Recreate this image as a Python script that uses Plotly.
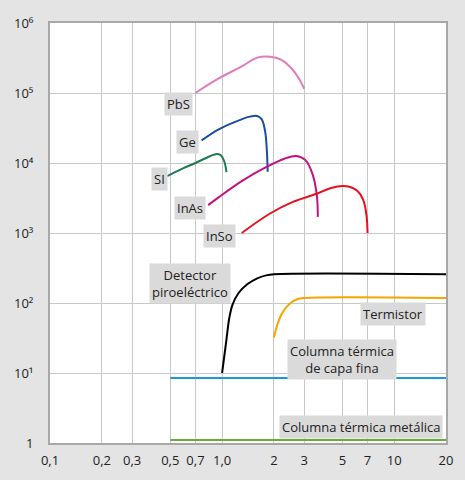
import math
import plotly.graph_objects as go

# longitud de onda (um) y detectividad relativa
pbs_x = [0.7, 0.95, 1.3, 1.6, 1.9, 2.2, 2.55, 2.8, 3.0]
pbs_y = [1.0e5, 1.6e5, 2.4e5, 3.2e5, 3.3e5, 3.0e5, 2.2e5, 1.6e5, 1.15e5]

ge_x = [0.76, 0.95, 1.2, 1.45, 1.6, 1.7, 1.78, 1.82, 1.84]
ge_y = [2.1e4, 3.0e4, 3.9e4, 4.6e4, 4.7e4, 4.2e4, 2.8e4, 1.5e4, 7.5e3]

si_x = [0.48, 0.6, 0.7, 0.85, 0.93, 0.98, 1.03, 1.06]
si_y = [6.5e3, 8.5e3, 1.0e4, 1.25e4, 1.35e4, 1.3e4, 1.05e4, 7.4e3]

inas_x = [0.83, 0.95, 1.3, 1.8, 2.3, 2.7, 3.05, 3.35, 3.55, 3.6]
inas_y = [2.5e3, 3.2e3, 5.5e3, 8.7e3, 1.15e4, 1.26e4, 1.1e4, 7.0e3, 3.5e3, 1.7e3]

inso_x = [1.3, 1.9, 2.6, 3.5, 4.3, 5.0, 5.6, 6.1, 6.6, 6.9, 7.0]
inso_y = [1.0e3, 1.9e3, 2.8e3, 3.6e3, 4.4e3, 4.7e3, 4.5e3, 4.0e3, 3.0e3, 1.8e3, 1.0e3]

piro_x = [1.0, 1.06, 1.1, 1.15, 1.25, 1.4, 1.6, 1.8, 2.0, 20]
piro_y = [10, 30, 60, 95, 140, 185, 225, 248, 258, 258]

term_x = [2.0, 2.1, 2.25, 2.5, 2.75, 3.0, 20]
term_y = [32, 50, 74, 100, 114, 118, 118]

capa_x = [0.5, 20]
capa_y = [8.5, 8.5]

metal_x = [0.5, 20]
metal_y = [1.1, 1.1]

x_ticks = [0.1, 0.2, 0.3, 0.5, 0.7, 1, 2, 3, 5, 7, 10, 20]
x_labels = ["0,1", "0,2", "0,3", "0,5", "0,7", "1,0", "2", "3", "5", "7", "10", "20"]
y_ticks = [1, 10, 100, 1e3, 1e4, 1e5, 1e6]
y_labels = ["1", "10¹", "10²", "10³", "10⁴", "10⁵", "10⁶"]

series = [
    (pbs_x, pbs_y, "#e07cbc"),
    (ge_x, ge_y, "#1a4ea0"),
    (si_x, si_y, "#1d7a52"),
    (inas_x, inas_y, "#c3127f"),
    (inso_x, inso_y, "#e8101e"),
    (piro_x, piro_y, "#000000"),
    (term_x, term_y, "#f5a500"),
    (capa_x, capa_y, "#1a98d8"),
    (metal_x, metal_y, "#6aac3c"),
]

fig = go.Figure()
for xs, ys, col in series:
    fig.add_trace(go.Scatter(x=xs, y=ys, mode="lines", hoverinfo="skip",
                             line=dict(color=col, width=2, shape="spline", smoothing=1.0)))

labels = [
    ("PbS", 0.56, 6.9e4),
    ("Ge", 0.63, 2.0e4),
    ("SI", 0.43, 5.9e3),
    ("InAs", 0.65, 2.3e3),
    ("InSo", 0.96, 910),
    ("Detector<br>piroeléctrico", 0.65, 187),
    ("Termistor", 9.8, 70),
    ("Columna térmica<br>de capa fina", 5.0, 15.4),
    ("Columna térmica metálica", 6.4, 1.7),
]
# en ejes log las anotaciones van en log10
for txt, lx, ly in labels:
    fig.add_annotation(x=math.log10(lx), y=math.log10(ly), text=txt, showarrow=False,
                       bgcolor="#dadada", borderpad=2,
                       font=dict(size=13, color="#222222"))

fig.update_layout(
    width=465, height=480,
    margin=dict(l=50, r=19, t=23, b=37),
    paper_bgcolor="#e4e4e4", plot_bgcolor="#ffffff",
    showlegend=False,
    font=dict(family="Open Sans", size=13, color="#222222"),
)
fig.update_xaxes(type="log", range=[-1, 1.30103], tickvals=x_ticks, ticktext=x_labels,
                 showgrid=True, gridcolor="#c8c8c8", gridwidth=1,
                 showline=True, linecolor="#a8a8a8", linewidth=2, mirror=True,
                 ticks="", zeroline=False, ticklabelstandoff=4, automargin=False,
                 tickfont=dict(size=13))
fig.update_yaxes(type="log", range=[0, 6], tickvals=y_ticks, ticktext=y_labels,
                 showgrid=True, gridcolor="#c8c8c8", gridwidth=1,
                 showline=True, linecolor="#a8a8a8", linewidth=2, mirror=True,
                 ticks="", zeroline=False, ticklabelstandoff=12, automargin=False,
                 tickfont=dict(size=13))

fig.write_html("out.html", config={"displayModeBar": False},
               post_script="document.body.style.margin='0';")
